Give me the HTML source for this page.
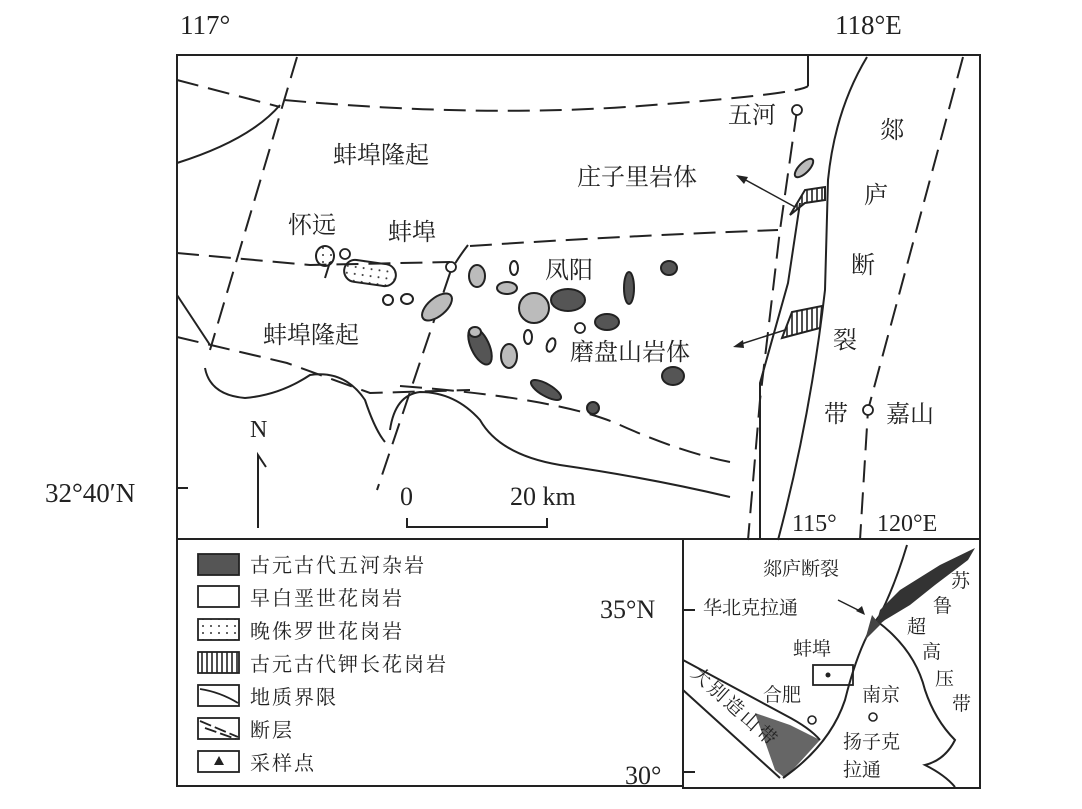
<!DOCTYPE html>
<html><head><meta charset="utf-8"><style>
html,body{margin:0;padding:0;background:#fff;}
svg{display:block;}
text{font-family:"Liberation Serif","Noto Serif CJK SC","Noto Sans CJK SC",serif;fill:#222;}
.c{font-family:"Liberation Serif","Noto Serif CJK SC",serif;}
</style></head><body>
<svg width="1082" height="809" viewBox="0 0 1082 809" xmlns="http://www.w3.org/2000/svg">
<defs>
<pattern id="dots" width="8" height="7" patternUnits="userSpaceOnUse"><circle cx="3" cy="3" r="1" fill="#333"/></pattern>
<pattern id="vh" width="5" height="10" patternUnits="userSpaceOnUse"><line x1="2" y1="0" x2="2" y2="10" stroke="#222" stroke-width="1.6"/></pattern>
</defs>
<g fill="none" stroke="#222" stroke-width="2">
<rect x="177" y="55" width="803" height="484"/>
<rect x="177" y="539" width="506" height="247"/>
<rect x="683" y="539" width="297" height="249"/>
<line x1="177" y1="488" x2="188" y2="488"/>
<g stroke-dasharray="22,10">
<path d="M177,80 L280,107"/>
<path d="M284,100 Q480,118 640,106 T808,86"/>
<path d="M297,57 L210,350"/>
<path d="M177,253 L310,265 L450,262"/>
<path d="M470,246 Q620,236 778,230"/>
<path d="M177,337 L287,363 L370,393 L470,390"/>
<path d="M400,386 Q560,398 620,425 T730,462"/>
<path d="M468,245 Q455,262 450,273 L377,490"/>
<path d="M797,110 L780,230 L760,400 L748,540"/>
<path d="M963,57 L868,410 L860,540"/>
</g>
<path d="M808,55 L808,86"/>
<path d="M177,163 Q250,140 280,105"/>
<path d="M177,295 L210,345"/>
<path d="M205,368 Q210,395 245,398 Q280,395 310,375 Q345,370 365,400 Q375,430 385,442"/>
<path d="M390,430 Q395,395 420,392 Q455,392 480,420 Q500,455 560,465 Q650,478 730,497"/>
<path d="M867,57 Q835,110 828,180 L825,290 Q810,420 778,540"/>
<path d="M800,203 L788,283 L760,383 L760,540"/>
<path d="M258,528 L258,455 L266,467"/>
<path d="M407,518 L407,527 L547,527 L547,518"/>
<path d="M795,207 L742,178" stroke-width="1.5"/>
<path d="M785,330 L738,345" stroke-width="1.5"/>
</g>
<polygon points="736,175 748,177 744,184" fill="#222"/>
<polygon points="733,347 743,340 744,348" fill="#222"/>
<g stroke="#222" stroke-width="2">
<ellipse cx="325" cy="256" rx="9" ry="10" fill="url(#dots)"/>
<path d="M330,262 L325,278" fill="none"/>
<rect x="344" y="262" width="52" height="22" rx="11" fill="url(#dots)" transform="rotate(8 370 273)"/>
<ellipse cx="388" cy="300" rx="5" ry="5" fill="#fff"/>
<ellipse cx="407" cy="299" rx="6" ry="5" fill="#fff"/>
<ellipse cx="437" cy="307" rx="9" ry="18" fill="#bbb" transform="rotate(50 437 307)"/>
<ellipse cx="477" cy="276" rx="8" ry="11" fill="#bbb"/>
<ellipse cx="514" cy="268" rx="4" ry="7" fill="#fff"/>
<ellipse cx="507" cy="288" rx="10" ry="6" fill="#bbb"/>
<ellipse cx="534" cy="308" rx="15" ry="15" fill="#bbb"/>
<ellipse cx="568" cy="300" rx="17" ry="11" fill="#555"/>
<ellipse cx="629" cy="288" rx="5" ry="16" fill="#555"/>
<ellipse cx="669" cy="268" rx="8" ry="7" fill="#555"/>
<ellipse cx="607" cy="322" rx="12" ry="8" fill="#555"/>
<ellipse cx="480" cy="346" rx="9" ry="20" fill="#555" transform="rotate(-25 480 346)"/>
<ellipse cx="475" cy="332" rx="6" ry="5" fill="#bbb"/>
<ellipse cx="509" cy="356" rx="8" ry="12" fill="#bbb"/>
<ellipse cx="528" cy="337" rx="4" ry="7" fill="#fff"/>
<ellipse cx="551" cy="345" rx="4" ry="7" fill="#fff" transform="rotate(20 551 345)"/>
<ellipse cx="673" cy="376" rx="11" ry="9" fill="#555"/>
<ellipse cx="546" cy="390" rx="17" ry="6" fill="#555" transform="rotate(30 546 390)"/>
<ellipse cx="593" cy="408" rx="6" ry="6" fill="#555"/>
<ellipse cx="804" cy="168" rx="5" ry="12" fill="#bbb" transform="rotate(45 804 168)"/>
<path d="M790,215 L805,190 L825,187 L825,200 L805,203 Z" fill="url(#vh)"/>
<path d="M782,338 L792,312 L822,306 L820,328 Z" fill="url(#vh)"/>
</g>
<g fill="#fff" stroke="#222" stroke-width="1.8">
<circle cx="345" cy="254" r="5"/><circle cx="451" cy="267" r="5"/><circle cx="580" cy="328" r="5"/>
<circle cx="797" cy="110" r="5"/><circle cx="868" cy="410" r="5"/>
</g>
<text x="180" y="34" font-size="27">117°</text>
<text x="835" y="34" font-size="27">118°E</text>
<text x="45" y="502" font-size="27">32°40′N</text>
<text x="250" y="437" font-size="24">N</text>
<text x="400" y="505" font-size="26">0</text>
<text x="510" y="505" font-size="26">20 km</text>
<g font-size="24">
<text x="333" y="163" class="c">蚌埠隆起</text>
<text x="288" y="233" class="c">怀远</text>
<text x="388" y="240" class="c">蚌埠</text>
<text x="545" y="278" class="c">凤阳</text>
<text x="263" y="343" class="c">蚌埠隆起</text>
<text x="577" y="185" class="c">庄子里岩体</text>
<text x="570" y="360" class="c">磨盘山岩体</text>
<text x="728" y="123" class="c">五河</text>
<text x="880" y="138" class="c">郯</text>
<text x="864" y="203" class="c">庐</text>
<text x="851" y="273" class="c">断</text>
<text x="833" y="348" class="c">裂</text>
<text x="824" y="422" class="c">带</text>
<text x="886" y="422" class="c">嘉山</text>
</g>
<g stroke="#222" stroke-width="1.8">
<rect x="198" y="554" width="41" height="21" fill="#555"/>
<rect x="198" y="586" width="41" height="21" fill="#fff"/>
<rect x="198" y="619" width="41" height="21" fill="url(#dots)"/>
<rect x="198" y="652" width="41" height="21" fill="url(#vh)"/>
<rect x="198" y="685" width="41" height="21" fill="#fff"/>
<path d="M200,689 Q220,692 238,703" fill="none"/>
<rect x="198" y="718" width="41" height="21" fill="#fff"/>
<path d="M200,721 L238,737 M205,728 L236,739" fill="none" stroke-dasharray="12,4"/>
<rect x="198" y="751" width="41" height="21" fill="#fff"/>
</g>
<polygon points="219,756 214,765 224,765" fill="#222"/>
<g font-size="20">
<text x="250" y="572" class="c" letter-spacing="2">古元古代五河杂岩</text>
<text x="250" y="605" class="c" letter-spacing="2">早白垩世花岗岩</text>
<text x="250" y="638" class="c" letter-spacing="2">晚侏罗世花岗岩</text>
<text x="250" y="671" class="c" letter-spacing="2">古元古代钾长花岗岩</text>
<text x="250" y="704" class="c" letter-spacing="2">地质界限</text>
<text x="250" y="737" class="c" letter-spacing="2">断层</text>
<text x="250" y="770" class="c" letter-spacing="2">采样点</text>
</g>
<text x="600" y="618" font-size="26">35°N</text>
<text x="625" y="784" font-size="26">30°</text>
<text x="792" y="531" font-size="24">115°</text>
<text x="877" y="531" font-size="24">120°E</text>
<path d="M755,713 L790,725 L820,740 L800,762 L785,778 L775,770 Z" fill="#666"/>
<g fill="none" stroke="#222" stroke-width="2">
<line x1="683" y1="610" x2="695" y2="610"/><line x1="683" y1="772" x2="695" y2="772"/>
<path d="M783,778 Q830,745 845,700 Q860,640 880,615 Q895,585 907,545"/>
<path d="M683,660 L785,715 Q810,728 820,740"/>
<path d="M683,690 L780,778"/>
<path d="M878,622 Q915,650 925,690 Q935,720 955,740 Q945,760 925,765 Q945,775 955,787"/>
<path d="M838,600 L862,612" stroke-width="1.5"/>
<rect x="813" y="665" width="40" height="20" stroke-width="1.8"/>
</g>
<path d="M875,628 L880,610 L900,590 L940,565 L975,548 L968,560 L935,585 L910,605 L885,620 Z" fill="#333"/>
<path d="M865,640 L872,615 L880,625 Z" fill="#444"/>
<polygon points="865,615 856,611 862,606" fill="#222"/>
<circle cx="828" cy="675" r="2.5" fill="#222"/>
<g fill="#fff" stroke="#222" stroke-width="1.6"><circle cx="812" cy="720" r="4"/><circle cx="873" cy="717" r="4"/></g>
<g font-size="19">
<text x="763" y="575" class="c">郯庐断裂</text>
<text x="703" y="614" class="c">华北克拉通</text>
<text x="793" y="655" class="c">蚌埠</text>
<text x="763" y="701" class="c">合肥</text>
<text x="862" y="701" class="c">南京</text>
<text x="843" y="748" class="c">扬子克</text>
<text x="843" y="776" class="c">拉通</text>
<text x="951" y="587" class="c">苏</text>
<text x="933" y="612" class="c">鲁</text>
<text x="907" y="633" class="c">超</text>
<text x="922" y="658" class="c">高</text>
<text x="935" y="685" class="c">压</text>
<text x="952" y="710" class="c">带</text>
<text x="0" y="0" class="c" transform="translate(690,675) rotate(42)" letter-spacing="3">大别造山带</text>
</g>
</svg>
</body></html>
